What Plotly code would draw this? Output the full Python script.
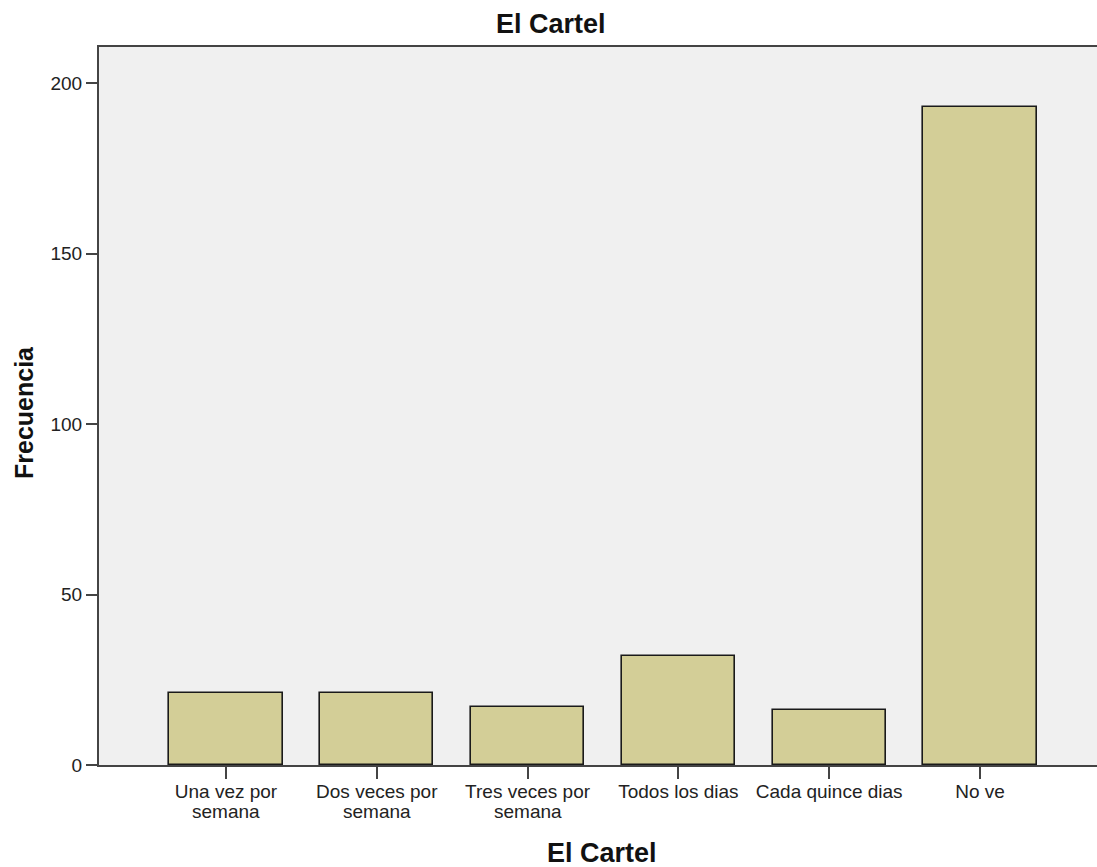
import plotly.graph_objects as go

categories = ["Una vez por<br>semana", "Dos veces por<br>semana", "Tres veces por<br>semana",
              "Todos los dias", "Cada quince dias", "No ve"]
values = [21, 21, 17, 32, 16, 193]
y_ticks = [0, 50, 100, 150, 200]

first_lines = [c.split("<br>")[0] for c in categories]
second_lines = [c.split("<br>")[1] if "<br>" in c else "" for c in categories]
xs = list(range(len(categories)))

FONT = "Liberation Sans, Arial, sans-serif"
L, T, W, H = 99, 47, 998, 718  # plot area in px

fig = go.Figure(go.Bar(
    x=xs, y=values, width=0.75,
    marker=dict(color="#d3ce97", line=dict(color="#1a1a1a", width=1.6)),
    hoverinfo="x+y",
))

fig.update_layout(
    width=1097, height=867,
    margin=dict(l=L, r=1097 - L - W, t=T, b=867 - T - H, pad=0),
    paper_bgcolor="white", plot_bgcolor="#f0f0f0",
    font=dict(family=FONT, size=19, color="#222"),
    showlegend=False, bargap=0,
)
fig.update_xaxes(
    range=[-0.842, 5.776],
    tickmode="array", tickvals=xs, ticktext=first_lines,
    ticks="outside", ticklen=12, tickwidth=2, tickcolor="#444",
    ticklabelstandoff=-4,
    showline=True, linecolor="#444", linewidth=2, mirror=True,
    showgrid=False, zeroline=False,
    tickfont=dict(size=19, color="#222"),
)
fig.update_yaxes(
    range=[0, 210.6],
    tickmode="array", tickvals=y_ticks,
    ticks="outside", ticklen=11, tickwidth=2, tickcolor="#444",
    showline=True, linecolor="#444", linewidth=2,
    showgrid=False, zeroline=False,
    tickfont=dict(size=19, color="#222"),
)

# second lines of the category labels (tight line spacing as in the reference)
for x, txt in zip(xs, second_lines):
    if txt:
        fig.add_annotation(text=txt, x=x, xref="x", y=-(811 - 765) / H, yref="paper",
                           showarrow=False, yanchor="middle",
                           font=dict(size=19, family=FONT, color="#222"))

fig.add_annotation(text="<b>El Cartel</b>", x=(551 - L) / W, y=1 + (T - 24) / H,
                   xref="paper", yref="paper", showarrow=False, yanchor="middle",
                   font=dict(size=27, family=FONT, color="#111"))
fig.add_annotation(text="<b>El Cartel</b>", x=(602 - L) / W, y=-(853 - 765) / H,
                   xref="paper", yref="paper", showarrow=False, yanchor="middle",
                   font=dict(size=27, family=FONT, color="#111"))
fig.add_annotation(text="<b>Frecuencia</b>", x=-(L - 24) / W, y=(765 - 413) / H,
                   xref="paper", yref="paper", showarrow=False, textangle=-90,
                   xanchor="center", yanchor="middle",
                   font=dict(size=25, family=FONT, color="#111"))

fig.write_html("out.html", config={"displayModeBar": False},
               post_script="document.body.style.margin='0';document.body.style.padding='0';")
